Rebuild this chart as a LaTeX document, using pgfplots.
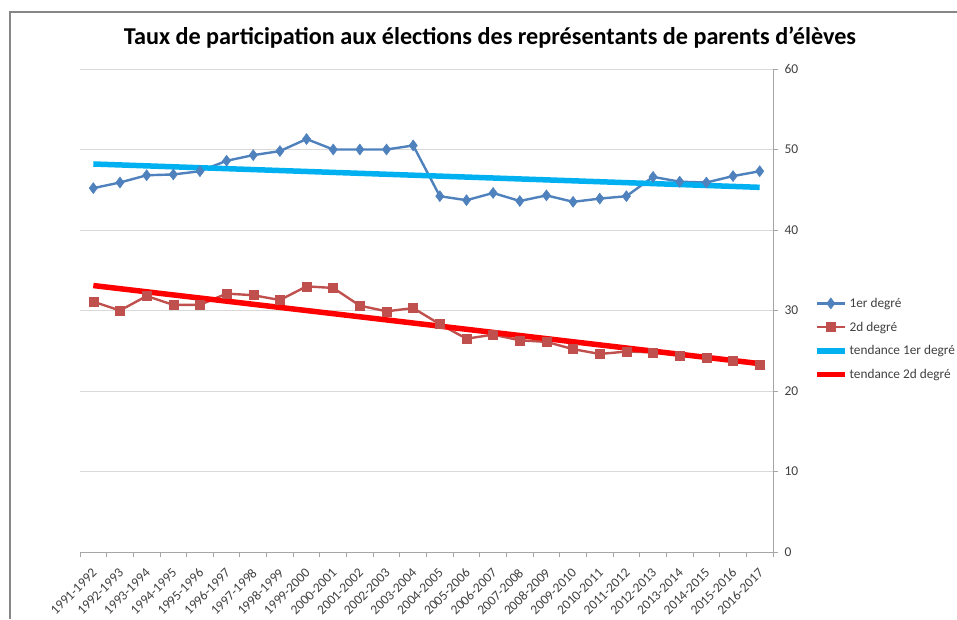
\documentclass[border=0pt]{standalone}
\usepackage{pgfplots}
\pgfplotsset{compat=1.18}
\usepackage{fontspec}
\setmainfont{Carlito}
\definecolor{serA}{HTML}{4F81BD}
\definecolor{serB}{HTML}{C0504D}
\definecolor{trA}{HTML}{00B0F0}
\definecolor{trB}{HTML}{FF0000}
\definecolor{gridc}{HTML}{D9D9D9}
\definecolor{axc}{HTML}{A6A6A6}
\definecolor{txt}{HTML}{404040}
\definecolor{frame}{HTML}{868686}
\begin{document}
\begin{tikzpicture}[x=1pt,y=1pt]
\path[use as bounding box] (0,0) rectangle (957,619);
\draw[color=frame,line width=2pt] (9.5,0) -- (9.5,606.5);
\draw[color=frame,line width=2pt] (8.5,606.5) -- (957,606.5);
\node[font=\fontsize{24.2}{28}\selectfont\bfseries,anchor=base] at (490,574) {Taux de participation aux élections des représentants de parents d'élèves};
\begin{axis}[
  at={(80pt,67pt)}, anchor=south west,
  scale only axis, width=693pt, height=483pt,
  xmin=-0.5, xmax=25.5, ymin=0, ymax=60,
  axis x line*=bottom, axis y line*=right,
  axis line style={color=axc,line width=0.9pt},
  ytick={0,10,...,60},
  ymajorgrids, grid style={color=gridc,line width=0.9pt},
  yticklabel pos=right,
  tick align=outside,
  major tick length=5pt, minor tick length=5pt,
  tick style={color=axc,line width=0.9pt},
  xtick={0,...,25},
  x tick style={draw=none},
  minor xtick={-0.5,0.5,...,25.5},
  minor x tick style={draw=axc,line width=0.9pt},
  xticklabels={1991-1992,1992-1993,1993-1994,1994-1995,1995-1996,1996-1997,1997-1998,1998-1999,1999-2000,2000-2001,2001-2002,2002-2003,2003-2004,2004-2005,2005-2006,2006-2007,2007-2008,2008-2009,2009-2010,2010-2011,2011-2012,2012-2013,2013-2014,2014-2015,2015-2016,2016-2017},
  xticklabel style={xshift=-2pt,yshift=-9pt,rotate=45,anchor=north east,font=\fontsize{13.5}{15}\selectfont,color=txt,inner sep=1pt},
  yticklabel style={font=\fontsize{13.5}{15}\selectfont,color=txt,xshift=3pt},
  /pgf/number format/assume math mode=true,
  legend style={at={(1.059,0.441)},anchor=west,draw=none,fill=none,font=\fontsize{13.3}{15}\selectfont,text=txt,row sep=9pt,inner sep=0pt},
  legend cell align=left,
  legend image code/.code={\draw[mark repeat=2,mark phase=2] plot coordinates {(0pt,0pt) (14pt,0pt) (28pt,0pt)};},
  clip=false,
]
\addplot[color=serA,line width=2.4pt,mark=diamond*,mark size=5.5pt,mark options={fill=serA,line width=0.5pt}] coordinates {
(0,45.2)(1,45.9)(2,46.8)(3,46.9)(4,47.3)(5,48.6)(6,49.3)(7,49.8)(8,51.3)(9,50.0)(10,50.0)(11,50.0)(12,50.5)(13,44.2)(14,43.7)(15,44.6)(16,43.6)(17,44.3)(18,43.5)(19,43.9)(20,44.2)(21,46.6)(22,46.0)(23,45.9)(24,46.7)(25,47.3)};
\addlegendentry{1er degré}
\addplot[color=serB,line width=2.4pt,mark=square*,mark size=4.5pt,mark options={fill=serB,line width=0.5pt}] coordinates {
(0,31.1)(1,30.0)(2,31.8)(3,30.7)(4,30.7)(5,32.1)(6,31.9)(7,31.3)(8,33.0)(9,32.8)(10,30.6)(11,29.9)(12,30.3)(13,28.3)(14,26.5)(15,27.0)(16,26.3)(17,26.1)(18,25.2)(19,24.6)(20,24.9)(21,24.8)(22,24.4)(23,24.1)(24,23.7)(25,23.3)};
\addlegendentry{2d degré}
\addplot[color=trA,line width=5.5pt,no marks] coordinates {(0,48.2)(25,45.3)};
\addlegendentry{tendance 1er degré}
\addplot[color=trB,line width=5.5pt,no marks] coordinates {(0,33.1)(25,23.4)};
\addlegendentry{tendance 2d degré}
\end{axis}
\end{tikzpicture}
\end{document}
